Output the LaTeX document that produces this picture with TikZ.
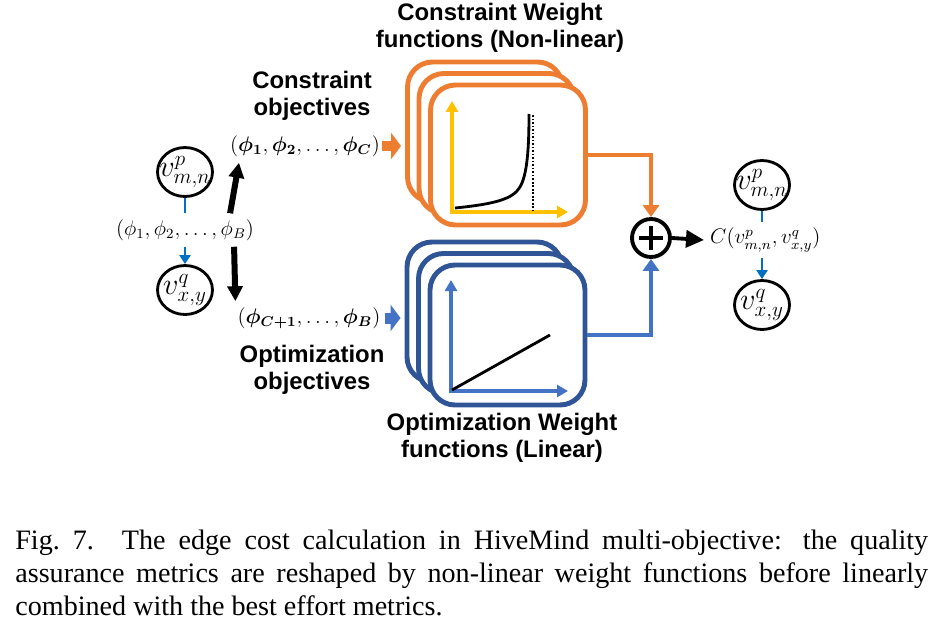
\documentclass[tikz,border=0pt]{standalone}
\usepackage{amsmath}
\usepackage{fontspec}
\setmainfont{Liberation Serif}
\newfontfamily\headfont{Liberation Sans}
\usepackage{tikz}
\usetikzlibrary{arrows.meta, shapes.geometric}
\definecolor{orng}{HTML}{ED7D31}
\definecolor{navy}{HTML}{2F5597}
\definecolor{midblue}{HTML}{4472C4}
\definecolor{gold}{HTML}{FFC000}
\definecolor{linkblue}{HTML}{0070C0}

\begin{document}
\begin{tikzpicture}[x=0.02cm, y=-0.02cm,
  vert/.style={ellipse, draw, line width=1.6pt, minimum width=1.1cm, minimum height=0.98cm, inner sep=-4pt,
    font=\fontsize{16.5}{18}\selectfont},
  head/.style={font=\headfont\bfseries\fontsize{13.6}{15.5}\selectfont, align=center},
  tup/.style={font=\fontsize{12}{14}\selectfont},
  wbox/.style={draw=#1, fill=white, line width=2.8pt, rounded corners=0.5cm, minimum width=3.1cm, minimum height=2.8cm},
  link/.style={linkblue, line width=1.5pt},
  fat/.style={line width=0.22cm, -{Triangle[length=0.2cm, width=0.52cm]}},
  thk/.style={line width=0.12cm, -{Triangle[length=0.3cm, width=0.3cm]}},
  feed/.style={line width=2.2pt, -{Triangle[length=0.24cm, width=0.32cm]}},
  ax/.style={line width=2pt, -{Triangle[length=0.22cm, width=0.24cm]}}]
\useasboundingbox (0,0) rectangle (939,625);
%% left pair
\node[vert] (vpl) at (185,172) {$v^p_{m,n}$};
\node[vert] (vql) at (185,290) {$v^q_{x,y}$};
\node[tup] (phiall) at (185,230) {$(\phi_1, \phi_2, \ldots, \phi_B)$};
\draw[link] (vpl.south) -- (phiall.north);
\draw[link, -{Triangle[length=0.18cm, width=0.22cm]}] (phiall.south) -- (vql.north);
%% split
\node[tup] (phicon) at (305,146) {$(\boldsymbol{\phi_1}, \boldsymbol{\phi_2}, \ldots, \boldsymbol{\phi_C})$};
\node[tup] (phiopt) at (309,318) {$(\boldsymbol{\phi_{C+1}}, \ldots, \boldsymbol{\phi_B})$};
\node[head] (conlbl) at (312,96) {Constraint\\objectives};
\node[head] (optlbl) at (312,370) {Optimization\\objectives};
\draw[thk] ([xshift=-0.6cm]phiall.north east) -- ([xshift=0.3cm]phicon.south west);
\draw[thk] ([xshift=-0.52cm]phiall.south east) -- ([xshift=0.08cm]phiopt.north west);
%% weight function stacks
\foreach \i/\d in {1/0, 2/11.5, 3/23} {
  \node[wbox=orng] (con\i) at (485+\d,132+\d) {};
  \node[wbox=navy] (opt\i) at (484.5+\d,312+\d) {};
}
\draw[fat, orng] ([xshift=-0.08cm]phicon.east) -- ([xshift=-0.08cm]phicon.east -| con1.west);
\draw[fat, midblue] ([xshift=-0.04cm]phiopt.east) -- ([xshift=-0.08cm]phiopt.east -| opt1.west);
\node[head] (conttl) at (500,28) {Constraint Weight\\functions (Non-linear)};
\node[head] (optttl) at (502,438) {Optimization Weight\\functions (Linear)};
%draw curves
\draw[ax, gold] (452,212) -- (452,101);
\draw[ax, gold] (450,212) -- (568,212);
\draw[densely dotted, line width=1pt] (533,115) -- (533,210);
\draw[line width=1.6pt] (455,208) .. controls (495,204) and (513,199) .. (520,187)
  .. controls (527,175) and (529,150) .. (529,114);
\draw[ax, midblue] (451,391) -- (451,280);
\draw[ax, midblue] (449,391) -- (568,391);
\draw[line width=1.6pt] (452,390) -- (550,335);
%% combine
\node[circle, draw, line width=2.2pt, minimum size=0.76cm, inner sep=0pt] (plus) at (651,238) {};
\draw[line width=2.6pt] ([xshift=-0.24cm]plus.center) -- ([xshift=0.24cm]plus.center);
\draw[line width=2.6pt] ([yshift=-0.24cm]plus.center) -- ([yshift=0.24cm]plus.center);
\draw[feed, orng] (con3.east) -| (plus.north);
\draw[feed, midblue] (opt3.east) -| (plus.south);
\node[tup, anchor=west] (cost) at (704,240) {$C(v^p_{m,n}, v^q_{x,y})$};
\draw[line width=2.2pt, -{Triangle[length=0.36cm, width=0.34cm]}] (plus.east) -- (cost.west);
%% right pair
\node[vert] (vpr) at (762,185) {$v^p_{m,n}$};
\node[vert] (vqr) at (762,305) {$v^q_{x,y}$};
\draw[link] (vpr.south) -- (vpr.south |- cost.north);
\draw[link, -{Triangle[length=0.18cm, width=0.22cm]}] (vqr.north |- cost.south) -- (vqr.north);
%% caption
\node[anchor=north west, text width=18.26cm, align=justify, inner sep=0pt,
  font=\fontsize{16}{18.8}\selectfont] (caption) at (15,530)
  {Fig.~7.\quad The edge cost calculation in HiveMind multi-objective: the quality\linebreak
   assurance metrics are reshaped by non-linear weight functions before linearly\linebreak
   combined with the best effort metrics.};
\end{tikzpicture}
\end{document}
